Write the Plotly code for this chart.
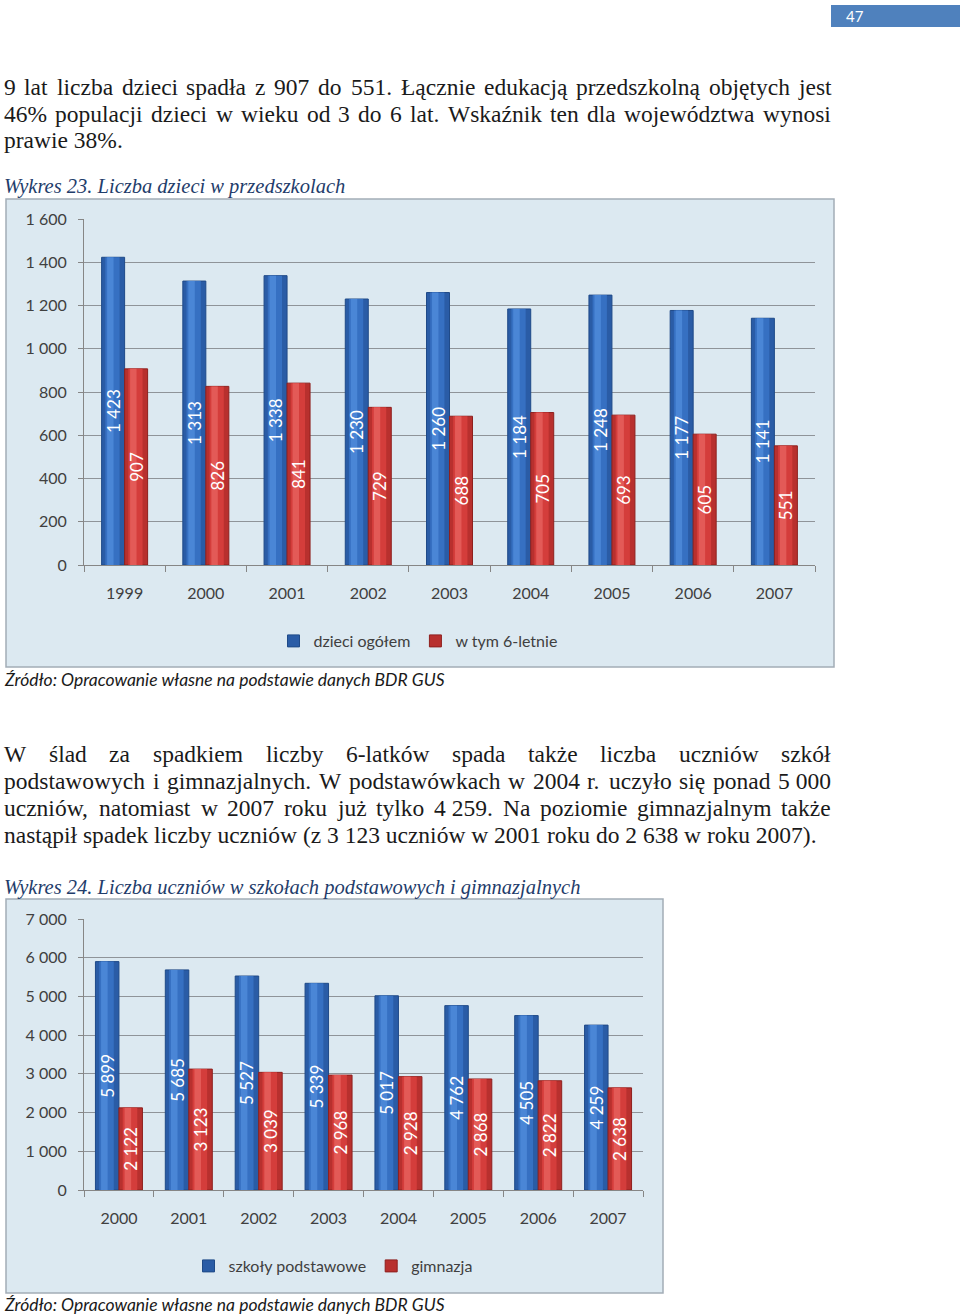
import unicodedata
import plotly.graph_objects as go

# ---------------- data ----------------
years1 = ["1999", "2000", "2001", "2002", "2003", "2004", "2005", "2006", "2007"]
dzieci_ogolem = [1423, 1313, 1338, 1230, 1260, 1184, 1248, 1177, 1141]
w_tym_6_letnie = [907, 826, 841, 729, 688, 705, 693, 605, 551]

years2 = ["2000", "2001", "2002", "2003", "2004", "2005", "2006", "2007"]
szkoly_podstawowe = [5899, 5685, 5527, 5339, 5017, 4762, 4505, 4259]
gimnazja = [2122, 3123, 3039, 2968, 2928, 2868, 2822, 2638]

para1 = [
    ("9 lat liczba dzieci spadła z 907 do 551. Łącznie edukacją przedszkolną objętych jest", True),
    ("46% populacji dzieci w wieku od 3 do 6 lat. Wskaźnik ten dla województwa wynosi", True),
    ("prawie 38%.", False),
]
para2 = [
    ("W ślad za spadkiem liczby 6-latków spada także liczba uczniów szkół", True),
    ("podstawowych i gimnazjalnych. W podstawówkach w 2004 r. uczyło się ponad 5\u00a0000", True),
    ("uczniów, natomiast w 2007 roku już tylko 4\u00a0259. Na poziomie gimnazjalnym także", True),
    ("nastąpił spadek liczby uczniów (z 3\u00a0123 uczniów w 2001 roku do 2\u00a0638 w roku 2007).", False),
]
caption1 = "Wykres 23. Liczba dzieci w przedszkolach"
caption2 = "Wykres 24. Liczba uczniów w szkołach podstawowych i gimnazjalnych"
source = "Źródło: Opracowanie własne na podstawie danych BDR GUS"

# ---------------- helpers ----------------
W, H = 960, 1314
def px(x): return x / W
def py(y): return 1 - y / H

TIMES = {' ': 250, '\u00a0': 250, '!': 333, '%': 833, '(': 333, ')': 333, ',': 250, '-': 333, '.': 250, ':': 278,
         'A': 722, 'B': 667, 'C': 667, 'D': 722, 'E': 611, 'F': 556, 'G': 722, 'H': 722, 'I': 333, 'J': 389,
         'K': 722, 'L': 611, 'M': 889, 'N': 722, 'O': 722, 'P': 556, 'Q': 722, 'R': 667, 'S': 556, 'T': 611,
         'U': 722, 'V': 722, 'W': 944, 'X': 722, 'Y': 722, 'Z': 611,
         'a': 444, 'b': 500, 'c': 444, 'd': 500, 'e': 444, 'f': 333, 'g': 500, 'h': 500, 'i': 278, 'j': 278,
         'k': 500, 'l': 278, 'm': 778, 'n': 500, 'o': 500, 'p': 500, 'q': 500, 'r': 333, 's': 389, 't': 278,
         'u': 500, 'v': 500, 'w': 722, 'x': 500, 'y': 500, 'z': 444, 'ł': 278, 'Ł': 611}

def char_w(c):
    if c.isdigit():
        return 500
    if c in TIMES:
        return TIMES[c]
    base = unicodedata.normalize('NFD', c)[0]
    return TIMES.get(base, 500)

def word_w(w, size):
    return sum(char_w(c) for c in w) * size / 1000.0

BODY_FONT = "Liberation Serif"
BODY_SIZE = 23.5
BODY_COLOR = "#1a1a1a"
LEFT, RIGHT = 4, 831

annotations = []

def add_text(x, y, s, size, family, color, anchor='left'):
    annotations.append(dict(xref='paper', yref='paper', x=px(x), y=py(y), xanchor=anchor, yanchor='middle',
                            text=s, showarrow=False, borderpad=0, borderwidth=0,
                            font=dict(family=family, size=size, color=color)))

def add_paragraph(lines, y0, dy):
    for i, (line, justify) in enumerate(lines):
        y = y0 + i * dy
        if not justify:
            add_text(LEFT, y, line, BODY_SIZE, BODY_FONT, BODY_COLOR)
            continue
        words = line.split(' ')
        widths = [word_w(w, BODY_SIZE) for w in words]
        gap = (RIGHT - LEFT - sum(widths)) / (len(words) - 1)
        x = LEFT
        for w, ww in zip(words, widths):
            add_text(x, y, w, BODY_SIZE, BODY_FONT, BODY_COLOR)
            x += ww + gap

add_paragraph(para1, 87, 26.6)
add_paragraph(para2, 754, 27.0)

CAP_COLOR = "#1f3d6b"
add_text(4, 186, "<i>" + caption1 + "</i>", 20.5, BODY_FONT, CAP_COLOR)
add_text(4, 887, "<i>" + caption2 + "</i>", 20.5, BODY_FONT, CAP_COLOR)
add_text(4, 679, "<i>" + source + "</i>", 17.5, "Lato", "#1a1a1a")
add_text(4, 1304, "<i>" + source + "</i>", 17.5, "Lato", "#1a1a1a")
add_text(846, 16, "47", 15, "Lato", "#ffffff")

# ---------------- figure ----------------
BLUES = ("#2a5ca6", "#3670c2", "#4a86d6", "#1f4a88")   # edge, mid, highlight, outline
REDS = ("#b8302e", "#d43d3b", "#e35a57", "#8e201e")
PANEL = "#dce9f1"
GRID = "#8f9499"
AXIS = "#868686"
TICKFONT = dict(family="Lato", size=16, color="#404040")
LABELFONT = dict(family="Lato", size=17, color="#ffffff")

w1 = 23.0 / ((815 - 84) / 9)
w2 = 23.5 / ((643 - 84) / 8)

fig = go.Figure()

def add_series(x, y, name, cols, width, offset, xa, ya, legend):
    edge, mid, hi, outline = cols
    common = dict(x=x, y=y, xaxis=xa, yaxis=ya, hoverinfo="skip", legend=legend)
    # base bar (legend entry), darker at the edges
    fig.add_trace(go.Bar(name=name, width=width, offset=offset, showlegend=True,
                         marker=dict(color=edge, line=dict(color=outline, width=1)), **common))
    # lighter core to mimic the cylinder shading
    fig.add_trace(go.Bar(name=name, width=width * 0.62, offset=offset + width * 0.16, showlegend=False,
                         marker=dict(color=mid, line=dict(width=0)), **common))
    fig.add_trace(go.Bar(name=name, width=width * 0.28, offset=offset + width * 0.24, showlegend=False,
                         marker=dict(color=hi, line=dict(width=0)), **common))
    # value labels on a transparent full-width bar
    fig.add_trace(go.Bar(name=name, width=width, offset=offset, showlegend=False,
                         marker=dict(color="rgba(0,0,0,0)", line=dict(width=0)),
                         texttemplate="%{y:,}", textposition="inside", insidetextanchor="middle",
                         textangle=-90, textfont=LABELFONT, constraintext="none", **common))

add_series(years1, dzieci_ogolem, "dzieci ogółem", BLUES, w1, -w1, "x", "y", "legend")
add_series(years1, w_tym_6_letnie, "w tym 6-letnie", REDS, w1, 0, "x", "y", "legend")
add_series(years2, szkoly_podstawowe, "szkoły podstawowe", BLUES, w2, -w2, "x2", "y2", "legend2")
add_series(years2, gimnazja, "gimnazja", REDS, w2, 0, "x2", "y2", "legend2")

def xaxis(domain, anchor, n):
    return dict(domain=domain, anchor=anchor, type="category", range=[-0.5, n - 0.5],
                showline=True, linecolor=AXIS, linewidth=1, ticks="outside", tickson="boundaries",
                ticklen=6, tickcolor=AXIS, tickfont=TICKFONT, showgrid=False, ticklabelstandoff=14,
                fixedrange=True)

def yaxis(domain, anchor, top, dtick):
    return dict(domain=domain, anchor=anchor, range=[0, top], dtick=dtick, tickformat=",",
                showgrid=True, gridcolor=GRID, gridwidth=1, showline=True, linecolor=AXIS,
                ticks="outside", ticklen=5, tickcolor=AXIS, tickfont=TICKFONT, zeroline=False,
                ticklabelstandoff=8, fixedrange=True)

shapes = [
    dict(type="rect", xref="paper", yref="paper", x0=px(6), x1=px(834), y0=py(667), y1=py(199),
         fillcolor=PANEL, line=dict(color="#a3adb6", width=1.5), layer="below"),
    dict(type="rect", xref="paper", yref="paper", x0=px(6), x1=px(663), y0=py(1293), y1=py(899),
         fillcolor=PANEL, line=dict(color="#a3adb6", width=1.5), layer="below"),
    dict(type="rect", xref="paper", yref="paper", x0=px(831), x1=px(960), y0=py(27), y1=py(5),
         fillcolor="#4f81bd", line=dict(width=0), layer="below"),
]

legend_common = dict(orientation="h", xanchor="center", yanchor="middle", bgcolor="rgba(0,0,0,0)",
                     font=dict(family="Lato", size=16, color="#404040"), itemwidth=30)

fig.update_layout(
    width=W, height=H, margin=dict(l=0, r=0, t=0, b=0, pad=0, autoexpand=False),
    paper_bgcolor="#ffffff", plot_bgcolor="rgba(0,0,0,0)",
    separators=", ",
    barmode="overlay",
    xaxis=xaxis([px(84), px(815)], "y", len(years1)),
    yaxis=yaxis([py(565), py(219)], "x", 1600, 200),
    xaxis2=xaxis([px(84), px(643)], "y2", len(years2)),
    yaxis2=yaxis([py(1190), py(919)], "x2", 7000, 1000),
    legend=dict(x=px(418), y=py(641), **legend_common),
    legend2=dict(x=px(333), y=py(1266), **legend_common),
    shapes=shapes,
    annotations=annotations,
    showlegend=True,
)

fig.write_html("out.html", config={"displayModeBar": False},
               post_script="document.body.style.margin='0px';document.body.style.padding='0px';"
                           "document.documentElement.style.overflow='hidden';")
